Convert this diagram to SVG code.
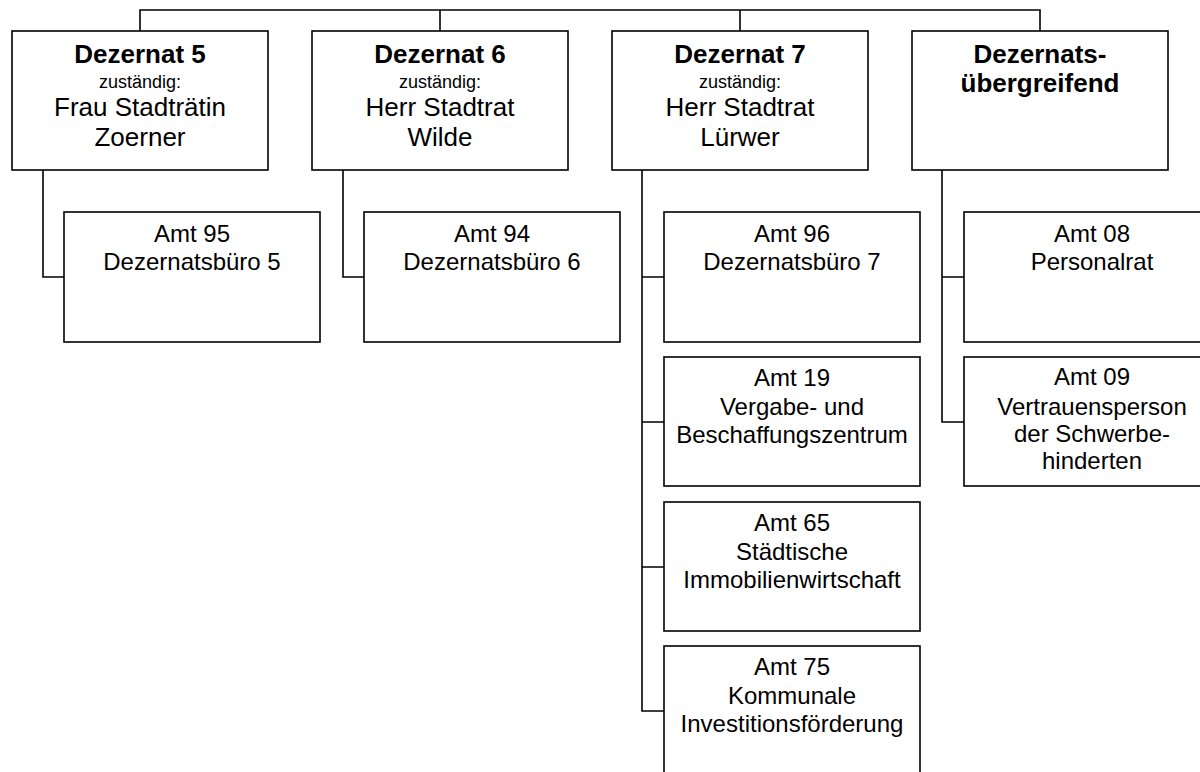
<svg xmlns="http://www.w3.org/2000/svg" width="1200" height="772" viewBox="0 0 1200 772">
<style>
.box{fill:#fff;stroke:#000;stroke-width:1.6}
.con{fill:none;stroke:#000;stroke-width:1.6}
text{font-family:"Liberation Sans",Arial,sans-serif;fill:#000;text-anchor:middle}
.h{font-size:26px;font-weight:bold}
.s{font-size:18px}
.n{font-size:26px}
.t{font-size:24px}
</style>
<rect width="1200" height="772" fill="#fff"/>
<g id="connectors">
<path class="con" d="M140,31V10H1040V31M440,10V31M740,10V31"/>
<path class="con" d="M43,170V277H64"/>
<path class="con" d="M343,170V277H364"/>
<path class="con" d="M642,170V711H664M642,277H664M642,422H664M642,567H664"/>
<path class="con" d="M942,170V422H964M942,277H964"/>
</g>
<g id="dez5">
<rect class="box" x="12" y="31" width="256" height="139"/>
<text class="h" x="140" y="63">Dezernat 5</text>
<text class="s" x="140" y="88">zuständig:</text>
<text class="n" x="140" y="116">Frau Stadträtin</text>
<text class="n" x="140" y="146">Zoerner</text>
</g>
<g id="dez6">
<rect class="box" x="312" y="31" width="256" height="139"/>
<text class="h" x="440" y="63">Dezernat 6</text>
<text class="s" x="440" y="88">zuständig:</text>
<text class="n" x="440" y="116">Herr Stadtrat</text>
<text class="n" x="440" y="146">Wilde</text>
</g>
<g id="dez7">
<rect class="box" x="612" y="31" width="256" height="139"/>
<text class="h" x="740" y="63">Dezernat 7</text>
<text class="s" x="740" y="88">zuständig:</text>
<text class="n" x="740" y="116">Herr Stadtrat</text>
<text class="n" x="740" y="146">Lürwer</text>
</g>
<g id="dezUe">
<rect class="box" x="912" y="31" width="256" height="139"/>
<text class="h" x="1040" y="63">Dezernats-</text>
<text class="h" x="1040" y="92">übergreifend</text>
</g>
<g id="amt95">
<rect class="box" x="64" y="212" width="256" height="130"/>
<text class="t" x="192" y="242">Amt 95</text>
<text class="t" x="192" y="270">Dezernatsbüro 5</text>
</g>
<g id="amt94">
<rect class="box" x="364" y="212" width="256" height="130"/>
<text class="t" x="492" y="242">Amt 94</text>
<text class="t" x="492" y="270">Dezernatsbüro 6</text>
</g>
<g id="amt96">
<rect class="box" x="664" y="212" width="256" height="130"/>
<text class="t" x="792" y="242">Amt 96</text>
<text class="t" x="792" y="270">Dezernatsbüro 7</text>
</g>
<g id="amt19">
<rect class="box" x="664" y="357" width="256" height="129"/>
<text class="t" x="792" y="386">Amt 19</text>
<text class="t" x="792" y="415">Vergabe- und</text>
<text class="t" x="792" y="443">Beschaffungszentrum</text>
</g>
<g id="amt65">
<rect class="box" x="664" y="502" width="256" height="129"/>
<text class="t" x="792" y="531">Amt 65</text>
<text class="t" x="792" y="560">Städtische</text>
<text class="t" x="792" y="588">Immobilienwirtschaft</text>
</g>
<g id="amt75">
<rect class="box" x="664" y="646" width="256" height="130"/>
<text class="t" x="792" y="675">Amt 75</text>
<text class="t" x="792" y="704">Kommunale</text>
<text class="t" x="792" y="732">Investitionsförderung</text>
</g>
<g id="amt08">
<rect class="box" x="964" y="212" width="256" height="130"/>
<text class="t" x="1092" y="242">Amt 08</text>
<text class="t" x="1092" y="270">Personalrat</text>
</g>
<g id="amt09">
<rect class="box" x="964" y="357" width="256" height="129"/>
<text class="t" x="1092" y="385">Amt 09</text>
<text class="t" x="1092" y="415">Vertrauensperson</text>
<text class="t" x="1092" y="442">der Schwerbe-</text>
<text class="t" x="1092" y="469">hinderten</text>
</g>
</svg>
